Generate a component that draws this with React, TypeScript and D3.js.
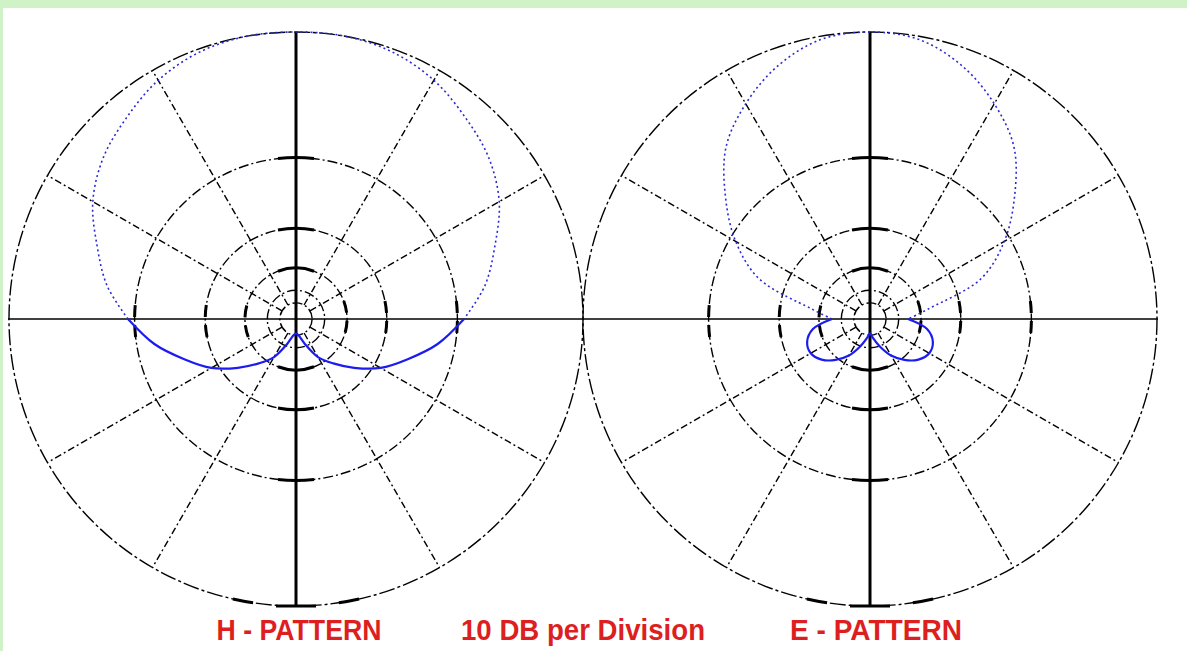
import React, { useEffect, useRef } from "react";
import * as d3 from "d3";

// bearing in degrees, 0 = straight up, one side only (patterns are symmetric)
const angles = [0, 10, 20, 30, 40, 50, 60, 70, 80, 90, 100, 110, 120, 130, 140, 150, 160, 170, 180];

// relative level in dB
const hPattern = [0, 0, -0.2, -0.7, -1.5, -2.3, -3.5, -5.3, -7, -9.3, -12, -15.4, -18.7, -23.1, -27.8, -32.6, -41, -49, -52.5];
const ePattern = [0, -0.2, -1.1, -2.5, -4.3, -7.3, -10.7, -15.4, -27.2, -35.1, -27.8, -25.3, -24.9, -26.3, -29.2, -33.3, -39.5, -46.3, -52.9];

const ringLevels = [0, -10, -20, -30, -40, -50];
const tickLevels = [-10, -20, -30];
const spokeAngles = [30, 60, 120, 150, 210, 240, 300, 330];

const titles = ["H - PATTERN", "E - PATTERN"];
const note = "10 DB per Division";

export default function App() {
  const ref = useRef<SVGSVGElement>(null);

  useEffect(() => {
    const svg = d3.select(ref.current);
    svg.selectAll("*").remove();

    const width = 1187;
    const height = 651;
    const radius = 287;
    const cy = 319;
    const centers = [296, 870];

    // green page frame
    svg.append("rect").attr("width", width).attr("height", height).attr("fill", "#cff3c6");
    svg
      .append("rect")
      .attr("x", 3)
      .attr("y", 8)
      .attr("width", width - 3)
      .attr("height", height - 8)
      .attr("fill", "#ffffff");

    // power ratio -> radius, each 10 dB division shrinks by 10^0.25
    let r = d3.scalePow().exponent(0.25).domain([0, 1]).range([0, radius]);
    let rad = (db: number) => r(Math.pow(10, db / 10));
    let toRad = (deg: number) => (deg * Math.PI) / 180;

    // arc on a ring, bearings in degrees
    let arcPath = (rr: number, a0: number, a1: number) => {
      let p = d3.path();
      p.arc(0, 0, rr, toRad(a0 - 90), toRad(a1 - 90));
      return p.toString();
    };

    let line = d3
      .lineRadial<[number, number]>()
      .angle(d => toRad(d[0]))
      .radius(d => rad(d[1]))
      .curve(d3.curveCatmullRom);

    // shared horizontal axis
    svg
      .append("line")
      .attr("x1", 8)
      .attr("x2", 1158)
      .attr("y1", cy)
      .attr("y2", cy)
      .attr("stroke", "#000")
      .attr("stroke-width", 1.5);

    [hPattern, ePattern].forEach((data, k) => {
      let g = svg.append("g").attr("transform", "translate(" + centers[k] + "," + cy + ")");

      // rings
      g.selectAll(".ring")
        .data(ringLevels)
        .enter()
        .append("circle")
        .attr("class", "ring")
        .attr("r", d => rad(d))
        .attr("fill", "none")
        .attr("stroke", "#000")
        .attr("stroke-width", 1.4)
        .attr("stroke-dasharray", d => (d === 0 ? "16 3 3 3" : "10 3 2 3"));

      // spokes
      g.selectAll(".spoke")
        .data(spokeAngles)
        .enter()
        .append("line")
        .attr("class", "spoke")
        .attr("x1", d => rad(-50) * Math.sin(toRad(d)))
        .attr("y1", d => -rad(-50) * Math.cos(toRad(d)))
        .attr("x2", d => radius * Math.sin(toRad(d)))
        .attr("y2", d => -radius * Math.cos(toRad(d)))
        .attr("stroke", "#000")
        .attr("stroke-width", 1.4)
        .attr("stroke-dasharray", "7 3 2 3");

      // thick vertical axis
      g.append("line")
        .attr("x1", 0)
        .attr("x2", 0)
        .attr("y1", -radius)
        .attr("y2", radius)
        .attr("stroke", "#000")
        .attr("stroke-width", 3);

      // division ticks where rings meet the axes
      tickLevels.forEach(lv => {
        let rr = rad(lv);
        let half = (Math.asin(Math.min(18 / rr, 0.9)) * 180) / Math.PI;
        [0, 90, 180, 270].forEach(a => {
          g.append("path")
            .attr("d", arcPath(rr, a - half, a + half))
            .attr("fill", "none")
            .attr("stroke", "#000")
            .attr("stroke-width", 3)
            .attr("stroke-dasharray", a % 180 === 0 ? null : "12 8");
        });
      });

      // bottom foot of the axis
      g.append("line")
        .attr("x1", -20)
        .attr("x2", 20)
        .attr("y1", radius)
        .attr("y2", radius)
        .attr("stroke", "#000")
        .attr("stroke-width", 3);
      [[167.3, 171.4], [188.6, 192.7]].forEach(([a0, a1]) => {
        g.append("path")
          .attr("d", arcPath(radius, a0, a1))
          .attr("fill", "none")
          .attr("stroke", "#000")
          .attr("stroke-width", 3);
      });

      // pattern: front half dotted, back half solid
      let pts: [number, number][] = angles.map((a, i) => [a, data[i]]);
      let front = pts.filter(d => d[0] <= 90);
      let upper: [number, number][] = [
        ...front.slice(1).reverse().map(d => [-d[0], d[1]] as [number, number]),
        ...front,
      ];
      let back = pts.filter(d => d[0] >= 90);
      let backLeft = back.map(d => [-d[0], d[1]] as [number, number]);

      g.append("path")
        .attr("d", line(upper))
        .attr("fill", "none")
        .attr("stroke", "#2a2ad2")
        .attr("stroke-width", 1.6)
        .attr("stroke-dasharray", "2 3");

      [back, backLeft].forEach(seg => {
        g.append("path")
          .attr("d", line(seg))
          .attr("fill", "none")
          .attr("stroke", "#1c1cf0")
          .attr("stroke-width", 2.2);
      });
    });

    // labels
    let labels = [
      { text: titles[0], x: 299, w: 165 },
      { text: note, x: 583, w: 244 },
      { text: titles[1], x: 876, w: 172 },
    ];
    svg
      .selectAll(".label")
      .data(labels)
      .enter()
      .append("text")
      .attr("class", "label")
      .attr("x", d => d.x)
      .attr("y", 640)
      .attr("text-anchor", "middle")
      .attr("textLength", d => d.w)
      .attr("lengthAdjust", "spacingAndGlyphs")
      .attr("font-family", "'Liberation Sans', Arial, sans-serif")
      .attr("font-weight", "bold")
      .attr("font-size", 29)
      .attr("fill", "#dd1f1f")
      .text(d => d.text);
  }, []);

  return (
    <svg
      ref={ref}
      width={1187}
      height={651}
      style={{ position: "fixed", top: 0, left: 0, display: "block" }}
    />
  );
}
